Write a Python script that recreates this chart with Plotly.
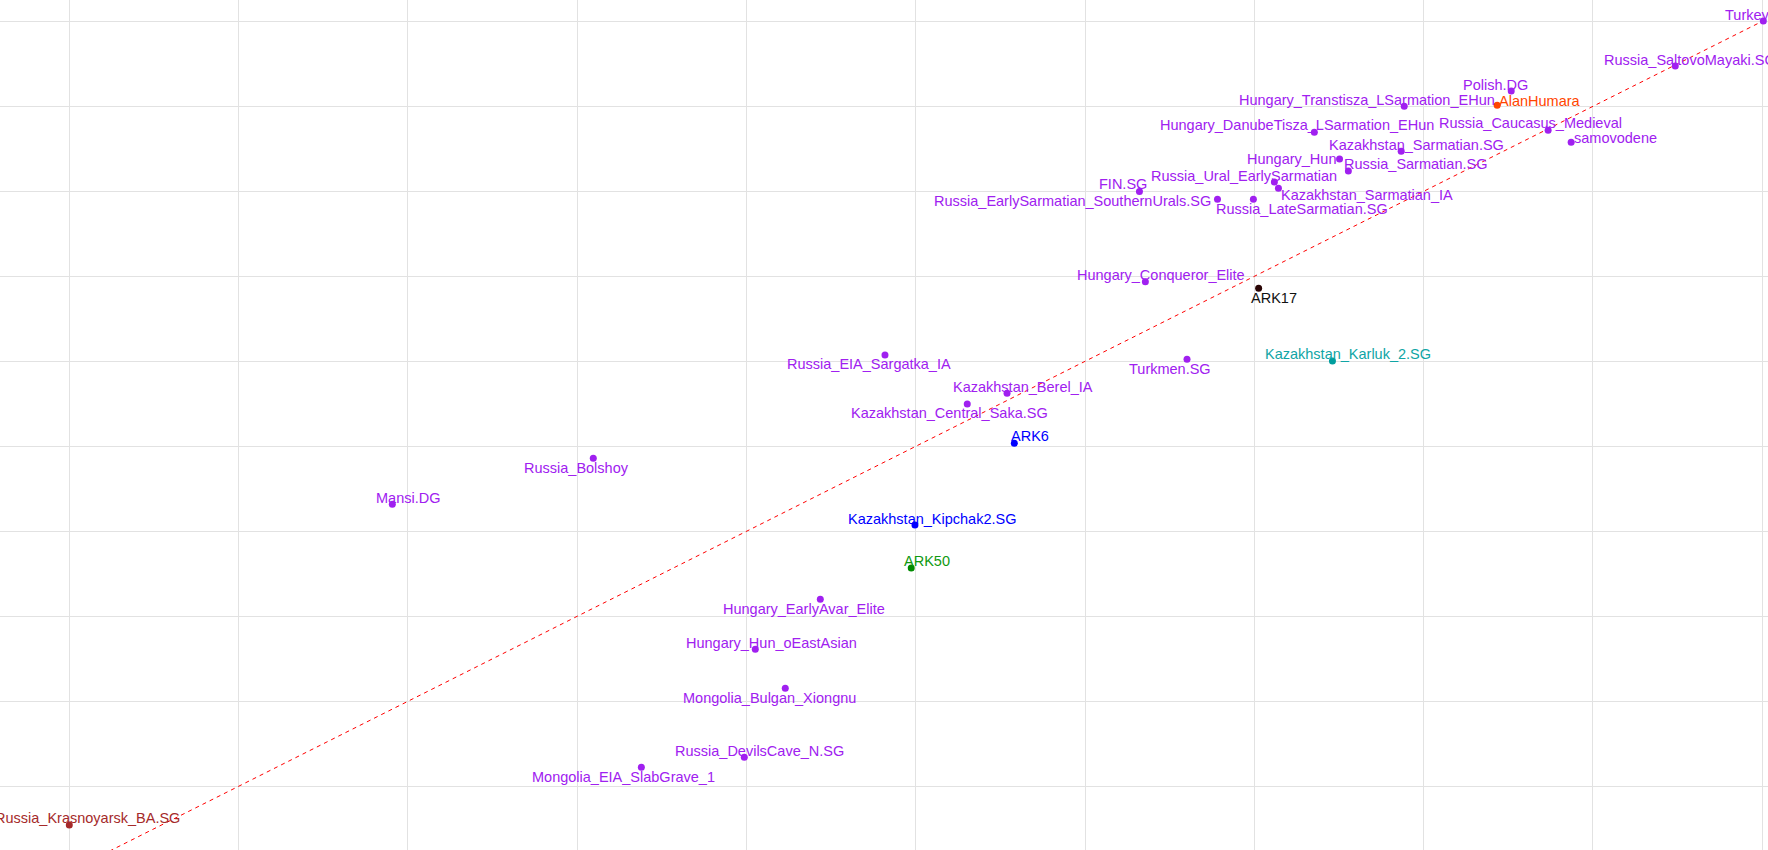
import plotly.graph_objects as go

# ---------------- data ----------------
names = [
    "Turkey", "Russia_SaltovoMayaki.SG", "Polish.DG", "AlanHumara",
    "Hungary_Transtisza_LSarmation_EHun", "Hungary_DanubeTisza_LSarmation_EHun",
    "Russia_Caucasus_Medieval", "samovodene", "Kazakhstan_Sarmatian.SG",
    "Hungary_Hun", "Russia_Sarmatian.SG", "Russia_Ural_EarlySarmatian",
    "Kazakhstan_Sarmatian_IA", "FIN.SG", "Russia_EarlySarmatian_SouthernUrals.SG",
    "Russia_LateSarmatian.SG", "Hungary_Conqueror_Elite", "ARK17", "Turkmen.SG",
    "Kazakhstan_Karluk_2.SG", "Russia_EIA_Sargatka_IA", "Kazakhstan_Berel_IA",
    "Kazakhstan_Central_Saka.SG", "ARK6", "Kazakhstan_Kipchak2.SG", "ARK50",
    "Russia_Bolshoy", "Mansi.DG", "Hungary_EarlyAvar_Elite", "Hungary_Hun_oEastAsian",
    "Mongolia_Bulgan_Xiongnu", "Russia_DevilsCave_N.SG", "Mongolia_EIA_SlabGrave_1",
    "Russia_Krasnoyarsk_BA.SG",
]
x_vals = [
    0.20006, 0.19486, 0.18517, 0.18434,
    0.17885, 0.17354,
    0.18735, 0.18871, 0.17867,
    0.17503, 0.17555, 0.17118,
    0.17142, 0.16321, 0.16782,
    0.16994, 0.16356, 0.17025, 0.16602,
    0.17461, 0.14818, 0.15539,
    0.15304, 0.15582, 0.14995, 0.14973,
    0.13095, 0.11908, 0.14436, 0.14052,
    0.14229, 0.13987, 0.13379,
    0.10000,
]
y_vals = [
    0.20004, 0.19474, 0.19180, 0.19012,
    0.19000, 0.18694,
    0.18718, 0.18576, 0.18471,
    0.18380, 0.18239, 0.18109,
    0.18035, 0.17998, 0.17906,
    0.17906, 0.16936, 0.16859, 0.16024,
    0.16004, 0.16074, 0.15624,
    0.15498, 0.15035, 0.14074, 0.13568,
    0.14859, 0.14318, 0.13200, 0.12612,
    0.12153, 0.11341, 0.11224,
    0.10545,
]
groups = [
    "ref", "ref", "ref", "alan",
    "ref", "ref",
    "ref", "ref", "ref",
    "ref", "ref", "ref",
    "ref", "ref", "ref",
    "ref", "ref", "ark17", "ref",
    "karluk", "ref", "ref",
    "ref", "blue", "blue", "ark50",
    "ref", "ref", "ref", "ref",
    "ref", "ref", "ref",
    "krasnoyarsk",
]

# ---------------- style ----------------
point_colors = {
    "ref": "#A020F0", "alan": "#FF4500", "ark17": "#2A0505", "karluk": "#009E9E",
    "blue": "#0000FF", "ark50": "#008B00", "krasnoyarsk": "#A52A2A",
}
text_colors = {
    "ref": "#A020F0", "alan": "#FF4500", "ark17": "#111111", "karluk": "#10A5A5",
    "blue": "#0000FF", "ark50": "#109910", "krasnoyarsk": "#A52A2A",
}
# label offsets from points, in pixels (dx right, dy down)
label_dx = [
    -15.5, 15, -16.2, 42.9, -36.8, -17, -17.2, 44.6, 15.2, -47.7, 66.9, -30.5,
    88.8, -16.6, -145.3, 48.6, 15.9, 15.7, -16.6, 15.3, -15.8, 15.5, -17.3, 15.7,
    17, 15.4, -17.2, 15.2, -16.5, 15.9, -16.1, 15.4, -17.6, 18,
]
label_dy = [
    -6, -6, -6, -4, -6.6, -7.3, -7, -4.6, -6.3, 0, -6.7, -6.3,
    6.4, -7.5, 1.7, 9.7, -6.7, 9.4, 9.4, -6.7, 9.3, -6.3, 9.3, -7.3,
    -6, -7, 10, -6, 10, -6.3, 9.4, -6.3, 9.4, -6.7,
]

x_range = [0.095907, 0.200337]
y_range = [0.102506, 0.202506]
FONT = "Liberation Sans, Arial, sans-serif"

fig = go.Figure()

# identity reference line y = x
lo = min(x_range[0], y_range[0]) - 0.01
hi = max(x_range[1], y_range[1]) + 0.01
fig.add_trace(go.Scatter(
    x=[lo, hi], y=[lo, hi], mode="lines",
    line=dict(color="#FF0000", width=1, dash="4px,4px"),
    hoverinfo="skip", showlegend=False,
))

fig.add_trace(go.Scatter(
    x=x_vals, y=y_vals, mode="markers", text=names,
    marker=dict(size=7, color=[point_colors[g] for g in groups]),
    hoverinfo="text", showlegend=False,
))

for n, xv, yv, g, dx, dy in zip(names, x_vals, y_vals, groups, label_dx, label_dy):
    fig.add_annotation(
        x=xv, y=yv, xref="x", yref="y", text=n, showarrow=False,
        xanchor="center", yanchor="middle", xshift=dx, yshift=-dy,
        font=dict(family=FONT, size=14.5, color=text_colors[g]),
    )

fig.update_xaxes(
    range=x_range, tick0=0, dtick=0.01, showticklabels=False, ticks="",
    showgrid=True, gridcolor="#E2E2E2", gridwidth=1, zeroline=False, showline=False,
)
fig.update_yaxes(
    range=y_range, tick0=0, dtick=0.01, showticklabels=False, ticks="",
    showgrid=True, gridcolor="#E2E2E2", gridwidth=1, zeroline=False, showline=False,
)
fig.update_layout(
    width=1768, height=850, margin=dict(l=0, r=0, t=0, b=0, pad=0),
    plot_bgcolor="white", paper_bgcolor="white", showlegend=False,
    font=dict(family=FONT),
)

fig.write_html(
    "out.html",
    config={"displayModeBar": False},
    post_script="document.body.style.margin='0';document.body.style.overflow='hidden';",
)
